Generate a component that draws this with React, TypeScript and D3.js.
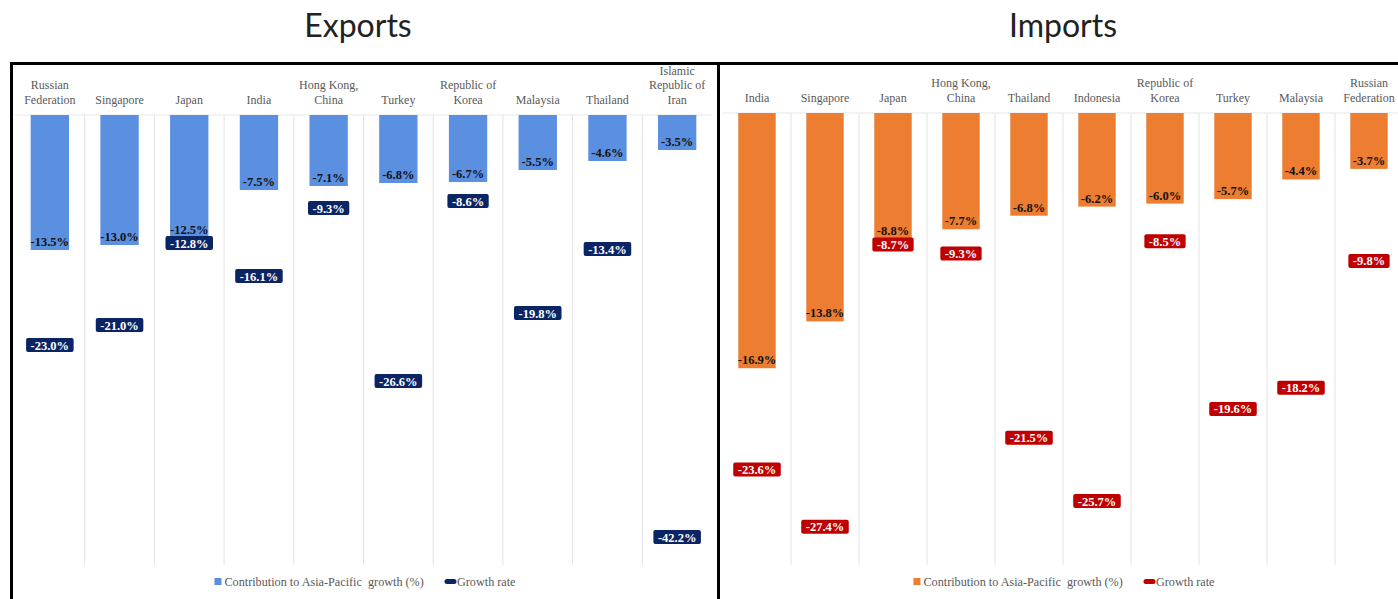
import React from "react";
import * as d3 from "d3";

// ---------- DATA ----------
const exportCategories = [
  "Russian\nFederation",
  "Singapore",
  "Japan",
  "India",
  "Hong Kong,\nChina",
  "Turkey",
  "Republic of\nKorea",
  "Malaysia",
  "Thailand",
  "Islamic\nRepublic of\nIran",
];
const exportContribution = [-13.5, -13.0, -12.5, -7.5, -7.1, -6.8, -6.7, -5.5, -4.6, -3.5];
const exportGrowth = [-23.0, -21.0, -12.8, -16.1, -9.3, -26.6, -8.6, -19.8, -13.4, -42.2];

const importCategories = [
  "India",
  "Singapore",
  "Japan",
  "Hong Kong,\nChina",
  "Thailand",
  "Indonesia",
  "Republic of\nKorea",
  "Turkey",
  "Malaysia",
  "Russian\nFederation",
];
const importContribution = [-16.9, -13.8, -8.8, -7.7, -6.8, -6.2, -6.0, -5.7, -4.4, -3.7];
const importGrowth = [-23.6, -27.4, -8.7, -9.3, -21.5, -25.7, -8.5, -19.6, -18.2, -9.8];

const legendLabels = ["Contribution to Asia-Pacific  growth (%)", "Growth rate"];

// ---------- HELPERS ----------
const SERIF = "'Liberation Serif', 'Times New Roman', serif";
const LABEL_FONT = "bold 12.5px 'Liberation Serif'";
let canvasCtx: CanvasRenderingContext2D | null = null;
function measure(text: string, font: string) {
  if (!canvasCtx) {
    const c = document.createElement("canvas");
    canvasCtx = c.getContext("2d");
  }
  if (!canvasCtx) return text.length * 6;
  canvasCtx.font = font;
  return canvasCtx.measureText(text).width;
}
const fmt = (v: number) => `${v.toFixed(1)}%`;

type PanelProps = {
  title: string;
  titleX: number;
  categories: string[];
  contribution: number[];
  growth: number[];
  x0: number;
  x1: number;
  top: number;
  bottom: number;
  yMin: number;
  barColor: string;
  growthColor: string;
  legendCx: number;
};

function Panel(p: PanelProps) {
  const xOuter = d3.scaleBand<string>().domain(p.categories).range([p.x0, p.x1]).padding(0);
  const y = d3.scaleLinear().domain([0, p.yMin]).range([p.top, p.bottom]);
  const step = xOuter.step();
  const barW = step * 0.55;
  const boxH = 14;

  const legendFontSize = 12.2;
  const legendFont = `${legendFontSize}px 'Liberation Serif'`;
  const l1w = measure(legendLabels[0], legendFont);
  const l2w = measure(legendLabels[1], legendFont);
  const gap = 20;
  const totalW = 10 + l1w + gap + 12.5 + l2w;
  const lx = p.legendCx - totalW / 2;
  const ly = 582;

  return (
    <g>
      <text
        x={p.titleX}
        y={37}
        textAnchor="middle"
        fontFamily="Lato, 'Open Sans', sans-serif"
        fontSize={32}
        fill="#222"
      >
        {p.title}
      </text>
      {/* plot area top line */}
      <line x1={p.x0} x2={p.x1} y1={p.top} y2={p.top} stroke="#e6e6e6" strokeWidth={1} />
      {/* gridlines between categories */}
      {p.categories.slice(1).map((c) => (
        <line
          key={"g" + c}
          x1={xOuter(c)!}
          x2={xOuter(c)!}
          y1={p.top}
          y2={p.bottom}
          stroke="#e3e3e3"
          strokeWidth={1}
        />
      ))}
      {/* category labels */}
      {p.categories.map((c) => {
        const lines = c.split("\n");
        const cx = xOuter(c)! + step / 2;
        const lastY = p.top - 11.5;
        return (
          <text key={"t" + c} x={cx} textAnchor="middle" fontFamily={SERIF} fontSize={12} fill="#595959">
            {lines.map((ln, i) => (
              <tspan key={i} x={cx} y={lastY - (lines.length - 1 - i) * 14.5}>
                {ln}
              </tspan>
            ))}
          </text>
        );
      })}
      {/* bars */}
      {p.categories.map((c, i) => {
        const cx = xOuter(c)! + step / 2;
        const v = p.contribution[i];
        const boxTop = y(p.growth[i]) - boxH / 2;
        let ty = y(v) - 4;
        if (ty > boxTop - 2 && ty < boxTop + boxH + 12) ty = boxTop - 2;
        return (
          <g key={"b" + c}>
            <rect x={cx - barW / 2} y={y(0)} width={barW} height={y(v) - y(0)} fill={p.barColor} />
            <text
              x={cx}
              y={ty}
              textAnchor="middle"
              fontFamily={SERIF}
              fontWeight="bold"
              fontSize={12.5}
              fill="#111"
            >
              {fmt(v)}
            </text>
          </g>
        );
      })}
      {/* growth labels */}
      {p.categories.map((c, i) => {
        const cx = xOuter(c)! + step / 2;
        const v = p.growth[i];
        const t = fmt(v);
        const w = measure(t, LABEL_FONT) + 9;
        const cy = y(v);
        return (
          <g key={"r" + c}>
            <rect x={cx - w / 2} y={cy - boxH / 2} width={w} height={boxH} rx={2} fill={p.growthColor} />
            <text
              x={cx}
              y={cy + 4.5}
              textAnchor="middle"
              fontFamily={SERIF}
              fontWeight="bold"
              fontSize={12.5}
              fill="#fff"
            >
              {t}
            </text>
          </g>
        );
      })}
      {/* legend */}
      <g fontFamily={SERIF} fontSize={legendFontSize} fill="#595959" style={{ whiteSpace: "pre" }}>
        <rect x={lx} y={ly - 4} width={7} height={7} fill={p.barColor} />
        <text x={lx + 10} y={ly + 4} xmlSpace="preserve">
          {legendLabels[0]}
        </text>
        <rect x={lx + 10 + l1w + gap} y={ly - 3} width={12} height={5} rx={2.5} fill={p.growthColor} />
        <text x={lx + 10 + l1w + gap + 12.5} y={ly + 4}>
          {legendLabels[1]}
        </text>
      </g>
    </g>
  );
}

export default function App() {
  return (
    <svg width={1398} height={599} style={{ position: "absolute", left: 0, top: 0, background: "#fff" }}>
      <rect x={0} y={0} width={1398} height={599} fill="#fff" />
      <Panel
        title="Exports"
        titleX={358}
        categories={exportCategories}
        contribution={exportContribution}
        growth={exportGrowth}
        x0={15}
        x1={712}
        top={115}
        bottom={565}
        yMin={-45}
        barColor="#5B8FE0"
        growthColor="#0B2463"
        legendCx={365}
      />
      <Panel
        title="Imports"
        titleX={1063}
        categories={importCategories}
        contribution={importContribution}
        growth={importGrowth}
        x0={723}
        x1={1403}
        top={113}
        bottom={565}
        yMin={-29.93}
        barColor="#EC7D31"
        growthColor="#C00000"
        legendCx={1064}
      />
      {/* panel borders */}
      <rect x={11.5} y={63.5} width={707} height={600} fill="none" stroke="#000" strokeWidth={3} />
      <rect x={718.5} y={63.5} width={700} height={600} fill="none" stroke="#000" strokeWidth={3} />
    </svg>
  );
}
